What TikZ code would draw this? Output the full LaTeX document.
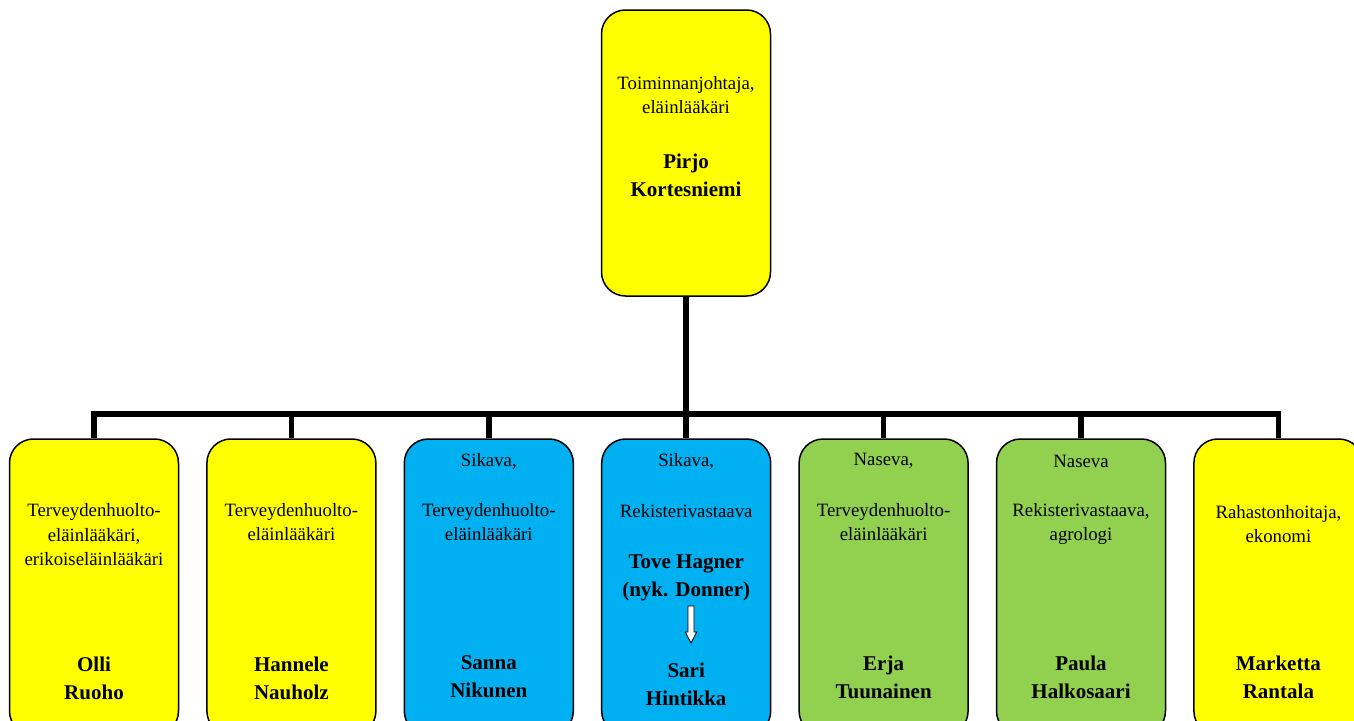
\documentclass[tikz,border=0pt]{standalone}
\usepackage{fontspec}
\setmainfont{Liberation Serif}
\definecolor{boardyellow}{RGB}{255, 255, 0}
\definecolor{sikavablue}{RGB}{0, 176, 240}
\definecolor{nasevagreen}{RGB}{146, 208, 80}
\tikzset{
  orgbox/.style={draw=black, line width=1.5pt, rounded corners=24pt, minimum width=169pt, inner sep=0pt},
  role/.style={font=\fontsize{18.8}{24.5}\selectfont, align=center},
  person/.style={font=\fontsize{21}{28}\selectfont\bfseries, align=center},
  orgline/.style={line width=5.5pt}
}
\begin{document}
\begin{tikzpicture}[x=1pt, y=-1pt]
            \useasboundingbox (0,0) rectangle (1354,720);
            \node[orgbox, fill=boardyellow, minimum height=286pt] (chief) at (686,153) {};
            \foreach \i/\col in {1/boardyellow, 2/boardyellow, 3/sikavablue, 4/sikavablue, 5/nasevagreen, 6/nasevagreen, 7/boardyellow}
                \node[orgbox, fill=\col, minimum height=296pt] (box\i) at ({94+(\i-1)*197.4},587) {};
            \coordinate (bus) at (686,414);
            \draw[orgline] (chief.south) -- (bus);
            \draw[orgline] (box1.north) |- (bus) -| (box7.north);
            \foreach \i in {2,...,6}
                \draw[orgline] (box\i.north) -- (box\i.north |- bus);
            % top
            \node[role]   (chiefrole) at (686,95)  {Toiminnanjohtaja,\\eläinlääkäri};
            \node[person] (chiefname) at (686,175) {Pirjo\\Kortesniemi};
            % staff
            \node[role]   (role1)  at (94,535)    {Terveydenhuolto-\\eläinlääkäri,\\erikoiseläinlääkäri};
            \node[person] (name1)  at (94,678)    {Olli\\Ruoho};
            \node[role]   (role2)  at (291.4,522) {Terveydenhuolto-\\eläinlääkäri};
            \node[person] (name2)  at (291.4,678) {Hannele\\Nauholz};
            \node[role]   (org3)   at (488.8,461) {Sikava,};
            \node[role]   (role3)  at (488.8,522) {Terveydenhuolto-\\eläinlääkäri};
            \node[person] (name3)  at (488.8,677) {Sanna\\Nikunen};
            \node[role]   (org4)   at (686.2,461) {Sikava,};
            \node[role]   (role4)  at (686.2,511) {Rekisterivastaava};
            \node[person] (name4)  at (686.2,578) {Tove Hagner\\(nyk. Donner)};
            \node[person] (name4b) at (686.2,684) {Sari\\Hintikka};
            \coordinate (swap) at (691,606);
            \filldraw[fill=white, line width=0.8pt] (swap) ++(-3,0) -- ++(6,0) -- ++(0,26) -- ++(2.7,0)
                 -- ++(-5.7,11) -- ++(-5.7,-11) -- ++(2.7,0) -- cycle;
            \node[role]   (org5)   at (883.6,461) {Naseva,};
            \node[role]   (role5)  at (883.6,522) {Terveydenhuolto-\\eläinlääkäri};
            \node[person] (name5)  at (883.6,677) {Erja\\Tuunainen};
            \node[role]   (org6)   at (1081,461)  {Naseva};
            \node[role]   (role6)  at (1081,524)  {Rekisterivastaava,\\agrologi};
            \node[person] (name6)  at (1081,677)  {Paula\\Halkosaari};
            \node[role]   (role7)  at (1278.4,524) {Rahastonhoitaja,\\ekonomi};
            \node[person] (name7)  at (1278.4,677) {Marketta\\Rantala};
        \end{tikzpicture}
\end{document}
